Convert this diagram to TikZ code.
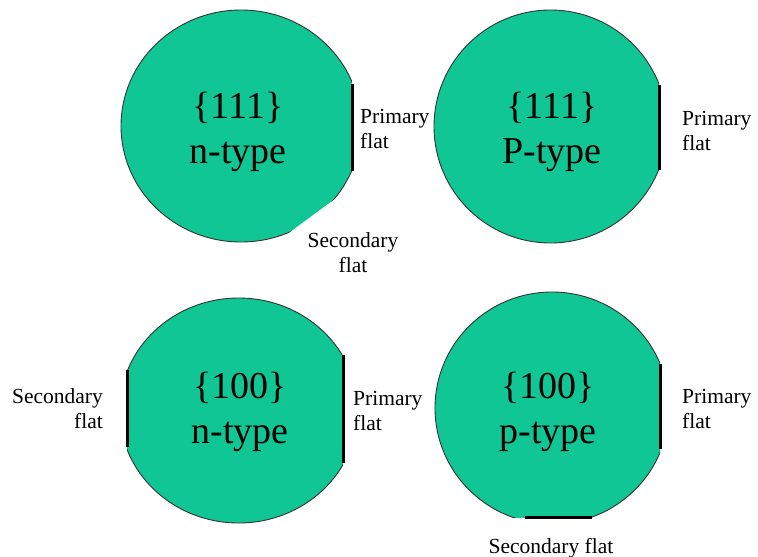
\documentclass[tikz,border=0pt]{standalone}
\usepackage{fontspec}
\setmainfont{Liberation Serif}
\definecolor{wafergreen}{RGB}{16,198,148}
\begin{document}
\begin{tikzpicture}[x=1pt,y=-1pt,
  wafer/.style={fill=wafergreen},
  rim/.style={draw=black!80, line width=0.9pt},
  flatline/.style={draw=black, line width=3pt},
  big/.style={font=\fontsize{38}{45}\selectfont, align=center, inner sep=0pt, anchor=base},
  small/.style={font=\fontsize{21.5}{24.5}\selectfont, inner sep=0pt}]
\useasboundingbox (0,0) rectangle (758,557);
% top-left wafer {111} n-type
\begin{scope}
  \clip (100,0) -- (352,0) -- (352,186.2) -- (200,298.4) -- (100,298.4) -- cycle;
  \fill[wafer] (241,126) ellipse [x radius=120, y radius=116];
  \draw[rim] (241,126) ellipse [x radius=120, y radius=116];
\end{scope}
\draw[flatline] (352,84) -- (352,171);
% top-right wafer {111} P-type
\begin{scope}
  \clip (420,0) rectangle (659,260);
  \fill[wafer] (550.5,126.5) ellipse [x radius=116.5, y radius=116.5];
  \draw[rim] (550.5,126.5) ellipse [x radius=116.5, y radius=116.5];
\end{scope}
\draw[flatline] (659,85) -- (659,170);
% bottom-left wafer {100} n-type
\begin{scope}
  \clip (127,280) rectangle (343,540);
  \fill[wafer] (238.7,410.5) ellipse [x radius=119, y radius=112.5];
  \draw[rim] (238.7,410.5) ellipse [x radius=119, y radius=112.5];
\end{scope}
\draw[flatline] (127,370) -- (127,447);
\draw[flatline] (343,355) -- (343,463);
% bottom-right wafer {100} p-type
\begin{scope}
  \clip (420,280) rectangle (660,517);
  \fill[wafer] (552,408) ellipse [x radius=117, y radius=116];
  \draw[rim] (552,408) ellipse [x radius=117, y radius=116];
\end{scope}
\draw[flatline] (660,364) -- (660,449);
\draw[flatline] (525,517) -- (592,517);
% labels (base anchor = baseline of the last line)
\node[big] (tlmain) at (238,163) {\{111\}\\n-type};
\node[small, anchor=base west, align=left] (tlprim) at (360,148) {Primary\\flat};
\node[small, anchor=base, align=center] (tlsec) at (353,272) {Secondary\\flat};
\node[big] (trmain) at (552,163) {\{111\}\\P-type};
\node[small, anchor=base west, align=left] (trprim) at (682,150) {Primary\\flat};
\node[small, anchor=base east, align=right] (blsec) at (103,428) {Secondary\\flat};
\node[big] (blmain) at (240,443) {\{100\}\\n-type};
\node[small, anchor=base west, align=left] (blprim) at (353,430) {Primary\\flat};
\node[big] (brmain) at (548,443) {\{100\}\\p-type};
\node[small, anchor=base west, align=left] (brprim) at (682,428) {Primary\\flat};
\node[small, anchor=base] (brsec) at (551,553) {Secondary flat};
\end{tikzpicture}
\end{document}
